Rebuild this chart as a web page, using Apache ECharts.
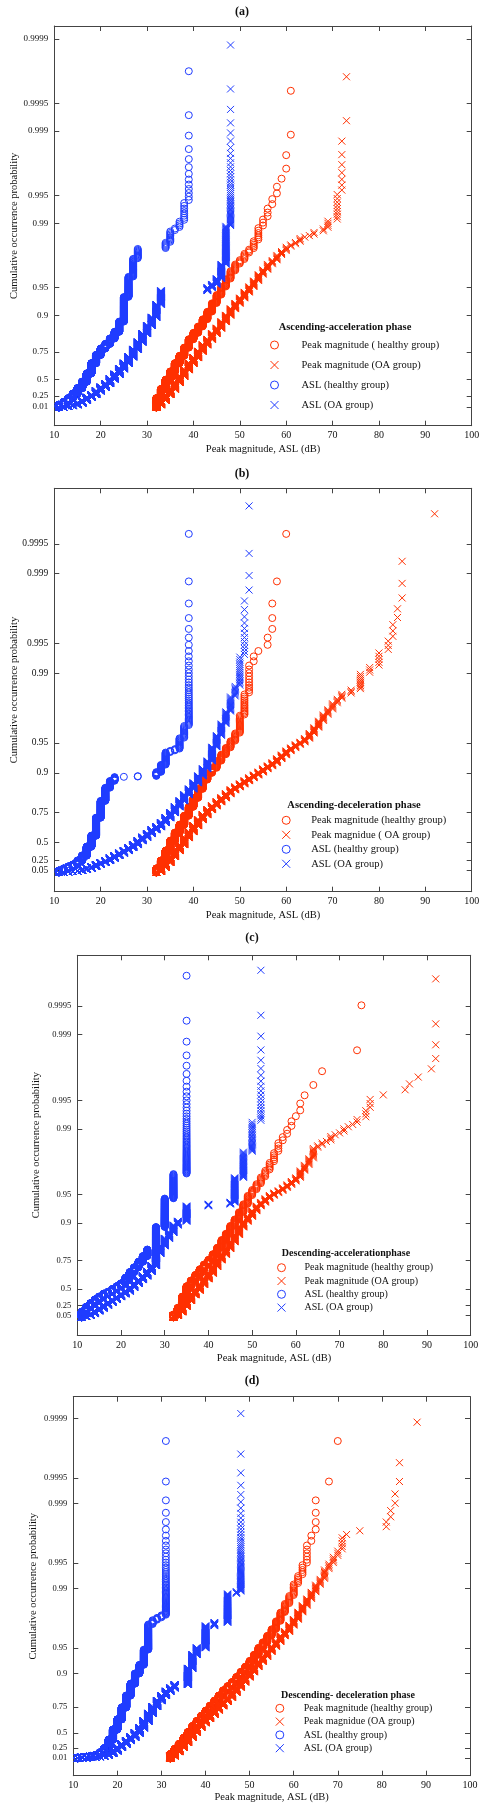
<!DOCTYPE html>
<html><head><meta charset="utf-8">
<script src="https://cdn.jsdelivr.net/npm/echarts@6/dist/echarts.min.js"></script>
<style>html,body{margin:0;padding:0;background:#fff}#c{width:484px;height:1805px}</style>
</head><body><div id="c"></div>
<script>
// ---------------- DATA (dB value, cumulative probability at that value, sample count) ----------------
// Panel (a) Ascending-acceleration phase
const aPeakHealthyX = [32,33,34,35,36,37,38,39,40,41,42,43,44,45,46,47,48,49,50,51,52,53,54,55,56,57,58,59,60,61];
const aPeakHealthyF = [0.206,0.369,0.499,0.593,0.669,0.725,0.776,0.818,0.845,0.868,0.890,0.909,0.926,0.940,0.951,0.960,0.967,0.972,0.975,0.979,0.981,0.985,0.989,0.9912,0.9934,0.9949,0.9964,0.9971,0.9985,1];
const aPeakOaX = [32,33,34,35,36,37,38,39,40,41,42,43,44,45,46,47,48,49,50,51,52,53,54,55,56,57,58,59,60,61,62,63,64,65,66,68,69,71,72,73];
const aPeakOaF = [0.067,0.168,0.276,0.369,0.463,0.543,0.611,0.669,0.712,0.755,0.791,0.818,0.842,0.862,0.883,0.900,0.915,0.926,0.935,0.944,0.951,0.958,0.964,0.968,0.972,0.975,0.978,0.980,0.982,0.983,0.984,0.9855,0.9862,0.9868,0.9877,0.9888,0.9907,0.99537,0.99897,1];
const aAslHealthyX = [11,12,13,14,15,16,17,18,19,20,21,22,23,24,25,26,27,28,34,35,36,37,38,39];
const aAslHealthyF = [0.067,0.129,0.206,0.292,0.383,0.475,0.573,0.669,0.731,0.771,0.796,0.822,0.849,0.883,0.937,0.962,0.976,0.981,0.984,0.9877,0.989,0.9907,0.9941,1];
const aAslOaX = [11,12,13,14,15,16,17,18,19,20,21,22,23,24,25,26,27,28,29,30,31,32,33,43,44,45,46,47,48];
const aAslOaF = [0.005,0.023,0.045,0.067,0.109,0.168,0.224,0.276,0.339,0.397,0.450,0.510,0.564,0.620,0.669,0.718,0.766,0.805,0.842,0.871,0.895,0.924,0.946,0.950,0.954,0.960,0.972,0.9893,1];
const aSampleN = [1370, 1945, 2234, 4300];

// Panel (b) Ascending-deceleration phase
const bPeakHealthyX = [32,33,34,35,36,37,38,39,40,41,42,43,44,45,46,47,48,49,50,51,52,53,54,56,57,58,60];
const bPeakHealthyF = [0.088,0.241,0.397,0.521,0.602,0.669,0.731,0.781,0.822,0.855,0.883,0.900,0.911,0.924,0.935,0.944,0.952,0.960,0.9737,0.9841,0.9920,0.9936,0.9944,0.9960,0.9984,0.9992,1];
const bPeakOaX = [32,33,34,35,36,37,38,39,40,41,42,43,44,45,46,47,48,49,50,51,52,53,54,55,56,57,58,59,60,61,62,63,64,65,66,67,68,69,70,71,72,74,76,78,80,82,83,84,85,92];
const bPeakOaF = [0.023,0.109,0.206,0.308,0.397,0.475,0.553,0.611,0.661,0.705,0.737,0.766,0.786,0.805,0.822,0.838,0.852,0.862,0.871,0.880,0.888,0.895,0.902,0.909,0.915,0.921,0.928,0.934,0.940,0.944,0.948,0.951,0.955,0.960,0.965,0.970,0.974,0.977,0.980,0.9822,0.9842,0.9855,0.9900,0.9915,0.9940,0.9953,0.9970,0.9980,0.9995,1];
const bAslHealthyX = [11,12,13,14,15,16,17,18,19,20,21,22,23,25,28,32,33,34,35,36,37,38,39];
const bAslHealthyF = [0.045,0.088,0.129,0.168,0.241,0.324,0.450,0.573,0.718,0.809,0.859,0.880,0.8905,0.8913,0.8929,0.902,0.917,0.938,0.940,0.9425,0.9553,0.9669,1];
const bAslOaX = [11,12,13,14,15,16,17,18,19,20,21,22,23,24,25,26,27,28,29,30,31,32,33,34,35,36,37,38,39,40,41,42,43,44,45,46,47,48,49,50,51,52];
const bAslOaF = [0.007,0.014,0.023,0.034,0.045,0.067,0.098,0.129,0.168,0.206,0.241,0.284,0.324,0.362,0.397,0.438,0.475,0.521,0.558,0.593,0.628,0.653,0.684,0.718,0.749,0.781,0.809,0.834,0.855,0.874,0.893,0.909,0.924,0.945,0.958,0.968,0.976,0.983,0.9868,0.9934,0.99833,1];
const bSampleN = [1256, 2000, 1256, 2400];

// Panel (c) Descending-acceleration phase
const cPeakHealthyX = [32,33,34,35,36,37,38,39,40,41,42,43,44,45,46,47,48,49,50,51,52,53,54,55,56,57,58,59,60,61,62,64,66,74,75];
const cPeakHealthyF = [0.067,0.206,0.397,0.532,0.593,0.645,0.691,0.725,0.755,0.786,0.818,0.849,0.871,0.893,0.909,0.924,0.937,0.949,0.956,0.962,0.968,0.9725,0.9771,0.9822,0.9859,0.9885,0.9905,0.9921,0.9934,0.9948,0.9961,0.9971,0.9980,0.9990,1];
const cPeakOaX = [32,33,34,35,36,37,38,39,40,41,42,43,44,45,46,47,48,49,50,51,52,53,54,55,56,57,58,59,60,61,62,63,64,65,66,67,68,69,70,71,72,73,74,76,77,80,85,86,88,91,92];
const cPeakOaF = [0.045,0.129,0.241,0.339,0.425,0.487,0.553,0.611,0.661,0.712,0.755,0.786,0.814,0.842,0.868,0.890,0.9045,0.915,0.926,0.934,0.940,0.945,0.949,0.952,0.955,0.958,0.961,0.964,0.967,0.972,0.976,0.9796,0.9842,0.9852,0.9862,0.9868,0.9880,0.9888,0.9893,0.9900,0.9907,0.9913,0.9921,0.9937,0.99537,0.99589,0.99640,0.99692,0.99743,0.99794,1];
const cAslHealthyX = [11,12,13,14,15,16,17,18,19,20,21,22,23,24,25,26,28,30,32,35];
const cAslHealthyF = [0.129,0.224,0.292,0.354,0.397,0.438,0.463,0.499,0.532,0.564,0.620,0.669,0.705,0.743,0.776,0.809,0.890,0.945,0.970,1];
const cAslOaX = [11,12,13,14,15,16,17,18,19,20,21,22,23,24,25,26,27,28,29,30,31,32,33,35,40,45,46,48,50,52];
const cAslOaF = [0.023,0.045,0.088,0.149,0.206,0.259,0.308,0.354,0.397,0.438,0.475,0.521,0.564,0.602,0.637,0.676,0.718,0.791,0.826,0.855,0.874,0.895,0.9045,0.934,0.937,0.940,0.967,0.9826,0.9917,1];
const cSampleN = [1020, 1945, 2100, 2400];

// Panel (d) Descending-deceleration phase
const dPeakHealthyX = [32,33,34,35,36,37,38,39,40,41,42,43,44,45,46,47,48,49,50,51,52,53,54,55,56,57,58,59,60,61,62,63,64,65,68,70];
const dPeakHealthyF = [0.109,0.224,0.324,0.425,0.510,0.583,0.637,0.684,0.725,0.760,0.791,0.818,0.842,0.859,0.874,0.890,0.9045,0.917,0.929,0.940,0.950,0.957,0.964,0.970,0.976,0.981,0.9849,0.9880,0.9911,0.9929,0.9949,0.99707,0.9978,0.99927,0.99963,1];
const dPeakOaX = [32,33,34,35,36,37,38,39,40,41,42,43,44,45,46,47,48,49,50,51,52,53,54,55,56,57,58,59,60,61,62,63,64,65,66,67,68,69,70,71,72,75,81,82,83,84,88];
const dPeakOaF = [0.067,0.168,0.259,0.354,0.438,0.510,0.573,0.620,0.661,0.698,0.731,0.760,0.786,0.809,0.834,0.855,0.874,0.890,0.9045,0.917,0.928,0.937,0.945,0.952,0.958,0.964,0.968,0.973,0.977,0.981,0.9842,0.9868,0.9890,0.9909,0.9924,0.9940,0.9950,0.9958,0.9965,0.99758,0.99780,0.99802,0.99846,0.99890,0.99934,0.99978,1];
const dAslHealthyX = [11,12,13,14,15,16,17,18,19,20,21,22,23,24,25,26,27,28,29,30,31];
const dAslHealthyF = [0.023,0.034,0.045,0.067,0.088,0.149,0.241,0.397,0.543,0.653,0.749,0.818,0.868,0.900,0.921,0.9475,0.9737,0.9766,0.9781,0.9796,1];
const dAslOaX = [11,12,13,14,15,16,17,18,19,20,21,22,23,24,25,26,27,28,29,30,31,32,33,36,37,38,40,42,45,47,48];
const dAslOaF = [0.007,0.014,0.023,0.034,0.045,0.067,0.088,0.129,0.187,0.259,0.324,0.383,0.438,0.499,0.564,0.637,0.705,0.755,0.791,0.818,0.838,0.852,0.865,0.913,0.940,0.950,0.9725,0.9749,0.9885,0.9893,1];
const dSampleN = [2730, 4550, 2730, 5750];

// Labels
const panelLabels = ['(a)', '(b)', '(c)', '(d)'];
const phaseTitles = ['Ascending-acceleration phase', 'Ascending-deceleration phase', 'Descending-accelerationphase', 'Descending- deceleration phase'];
const legendTexts = [
  ['Peak magnitude ( healthy group)', 'Peak magnitude (OA group)', 'ASL (healthy group)', 'ASL (OA group)'],
  ['Peak magnitude (healthy group)', 'Peak magnidue ( OA group)', 'ASL (healthy group)', 'ASL (OA group)'],
  ['Peak magnitude (healthy group)', 'Peak magnitude (OA group)', 'ASL (healthy group)', 'ASL (OA group)'],
  ['Peak magnitude (healthy group)', 'Peak magnidue (OA group)', 'ASL (healthy group)', 'ASL (OA group)']
];
const yTickLabelsAD = ['0.01','0.25','0.5','0.75','0.9','0.95','0.99','0.995','0.999','0.9995','0.9999'];
const yTickLabelsBC = ['0.05','0.25','0.5','0.75','0.9','0.95','0.99','0.995','0.999','0.9995'];
const xAxisTitle = 'Peak magnitude, ASL (dB)';
const yAxisTitle = 'Cumulative occurrence probability';

// ---------------- helpers ----------------
// probability-scale: position = -log10(1 - p)
function probScale(p) { return -Math.log10(1 - p); }
// empirical CDF markers (Hazen plotting position) from per-value cumulative fractions
function ecdfPoints(xs, F, N) {
  const pts = [];
  let prev = 0;
  for (let i = 0; i < xs.length; i++) {
    const cum = Math.min(N, Math.round(F[i] * N));
    for (let k = prev + 1; k <= cum; k++) {
      const p = (k - 0.5) / N;
      pts.push([xs[i], probScale(p), p]);
    }
    prev = Math.max(prev, cum);
  }
  return pts;
}

const RED = '#ff3000', BLUE = '#1f3cff';
const FONT = '"Liberation Serif", "DejaVu Serif", serif';
const CROSS = 'path://M0,0L10,10M10,0L0,10';

const panels = [
  { sets: [[aPeakHealthyX,aPeakHealthyF],[aPeakOaX,aPeakOaF],[aAslHealthyX,aAslHealthyF],[aAslOaX,aAslOaF]], N: aSampleN,
    grid: {left: 54.3, top: 26, width: 417.4, height: 399.7}, yMin: -0.198, yMax: 4.141, ticks: yTickLabelsAD, yFont: 9,
    titleXY: [242, 12], legend: {left: 270, top: 339, gap: 8, pad: 18, font: 10.5}, legTitle: [345, 327, 10.5], yNameGap: 35, xNameGap: 18 },
  { sets: [[bPeakHealthyX,bPeakHealthyF],[bPeakOaX,bPeakOaF],[bAslHealthyX,bAslHealthyF],[bAslOaX,bAslOaF]], N: bSampleN,
    grid: {left: 54.3, top: 488.3, width: 417.4, height: 403.4}, yMin: -0.193, yMax: 3.858, ticks: yTickLabelsBC, yFont: 9.5,
    titleXY: [242, 473.5], legend: {left: 281.7, top: 814.3, gap: 2.5, pad: 16, font: 10.5}, legTitle: [354, 805.7, 10.5], yNameGap: 35, xNameGap: 18 },
  { sets: [[cPeakHealthyX,cPeakHealthyF],[cPeakOaX,cPeakOaF],[cAslHealthyX,cAslHealthyF],[cAslOaX,cAslOaF]], N: cSampleN,
    grid: {left: 77.3, top: 955.3, width: 393.4, height: 379.7}, yMin: -0.187, yMax: 3.84, ticks: yTickLabelsBC, yFont: 8.5,
    titleXY: [252, 937.5], legend: {left: 277, top: 1261.7, gap: 1.3, pad: 14, font: 10}, legTitle: [346, 1253.3, 10], yNameGap: 36, xNameGap: 18 },
  { sets: [[dPeakHealthyX,dPeakHealthyF],[dPeakOaX,dPeakOaF],[dAslHealthyX,dAslHealthyF],[dAslOaX,dAslOaF]], N: dSampleN,
    grid: {left: 73.3, top: 1396.7, width: 396.7, height: 379}, yMin: -0.204, yMax: 4.259, ticks: yTickLabelsAD, yFont: 8.5,
    titleXY: [252, 1381], legend: {left: 275.3, top: 1702.3, gap: 1.3, pad: 15, font: 10}, legTitle: [348, 1695, 10], yNameGap: 35, xNameGap: 16 }
];

const option = {
  animation: false,
  backgroundColor: '#fff',
  grid: [], xAxis: [], yAxis: [], series: [], legend: [], graphic: []
};

const axisLine = {show: true, onZero: false, lineStyle: {color: '#444', width: 1}};

panels.forEach((pn, i) => {
  option.grid.push(Object.assign({containLabel: false, outerBoundsMode: 'none', show: false}, pn.grid));
  const tickVals = pn.ticks.map(t => probScale(parseFloat(t)));
  const yFmt = v => { for (let j = 0; j < tickVals.length; j++) if (Math.abs(tickVals[j] - v) < 1e-6) return pn.ticks[j]; return ''; };
  // bottom x
  option.xAxis.push({type: 'value', gridIndex: i, min: 10, max: 100, interval: 10, position: 'bottom',
    name: xAxisTitle, nameLocation: 'middle', nameGap: pn.xNameGap, nameMoveOverlap: false,
    nameTextStyle: {fontFamily: FONT, fontSize: 10.5, color: '#111'},
    axisLine, axisTick: {inside: true, length: 5, lineStyle: {color: '#444'}},
    axisLabel: {fontFamily: FONT, fontSize: 10, color: '#111', margin: 5, hideOverlap: false}, splitLine: {show: false}});
  // top x (ticks only)
  option.xAxis.push({type: 'value', gridIndex: i, min: 10, max: 100, interval: 10, position: 'top',
    axisLine, axisTick: {inside: true, length: 5, lineStyle: {color: '#444'}},
    axisLabel: {show: false}, splitLine: {show: false}});
  // left y
  option.yAxis.push({type: 'value', gridIndex: i, min: pn.yMin, max: pn.yMax, position: 'left',
    name: yAxisTitle, nameLocation: 'middle', nameGap: pn.yNameGap, nameMoveOverlap: false,
    nameTextStyle: {fontFamily: FONT, fontSize: 10.5, color: '#111'},
    axisLine, axisTick: {inside: true, length: 5, customValues: tickVals, lineStyle: {color: '#444'}},
    axisLabel: {customValues: tickVals, formatter: yFmt, fontFamily: FONT, fontSize: pn.yFont, color: '#111', margin: 6, hideOverlap: false},
    splitLine: {show: false}});
  // right y (ticks only)
  option.yAxis.push({type: 'value', gridIndex: i, min: pn.yMin, max: pn.yMax, position: 'right',
    axisLine, axisTick: {inside: true, length: 5, customValues: tickVals, lineStyle: {color: '#444'}},
    axisLabel: {show: false, customValues: tickVals}, splitLine: {show: false}});

  const names = legendTexts[i].map(t => 'abcd'[i] + ':' + t);
  const styles = [
    {symbol: 'circle', color: RED}, {symbol: CROSS, color: RED},
    {symbol: 'circle', color: BLUE}, {symbol: CROSS, color: BLUE}
  ];
  pn.sets.forEach((s, j) => {
    option.series.push({
      type: 'scatter', name: names[j], xAxisIndex: 2 * i, yAxisIndex: 2 * i,
      data: ecdfPoints(s[0], s[1], pn.N[j]),
      symbol: styles[j].symbol, symbolSize: 7, symbolKeepAspect: true,
      itemStyle: {color: 'rgba(0,0,0,0)', borderColor: styles[j].color, borderWidth: 1, opacity: 1},
      progressive: 0, large: false, silent: true, clip: true
    });
  });
  option.legend.push({
    orient: 'vertical', left: pn.legend.left, top: pn.legend.top, padding: 0,
    itemWidth: 8, itemHeight: 8, itemGap: pn.legend.gap, data: names,
    formatter: n => n.slice(2), selectedMode: false,
    itemStyle: {color: 'rgba(0,0,0,0)', borderWidth: 1},
    textStyle: {fontFamily: FONT, fontSize: pn.legend.font, color: '#111', lineHeight: 12, padding: [0, 0, 0, pn.legend.pad]}
  });
  option.graphic.push({type: 'text', x: pn.titleXY[0], y: pn.titleXY[1],
    style: {text: panelLabels[i], font: 'bold 12px ' + FONT, fill: '#111', align: 'center', verticalAlign: 'middle'}});
  option.graphic.push({type: 'text', x: pn.legTitle[0], y: pn.legTitle[1],
    style: {text: phaseTitles[i], font: 'bold ' + pn.legTitle[2] + 'px ' + FONT, fill: '#111', align: 'center', verticalAlign: 'middle'}});
});

const chart = echarts.init(document.getElementById('c'), null, {renderer: 'canvas'});
chart.setOption(option);
</script></body></html>
